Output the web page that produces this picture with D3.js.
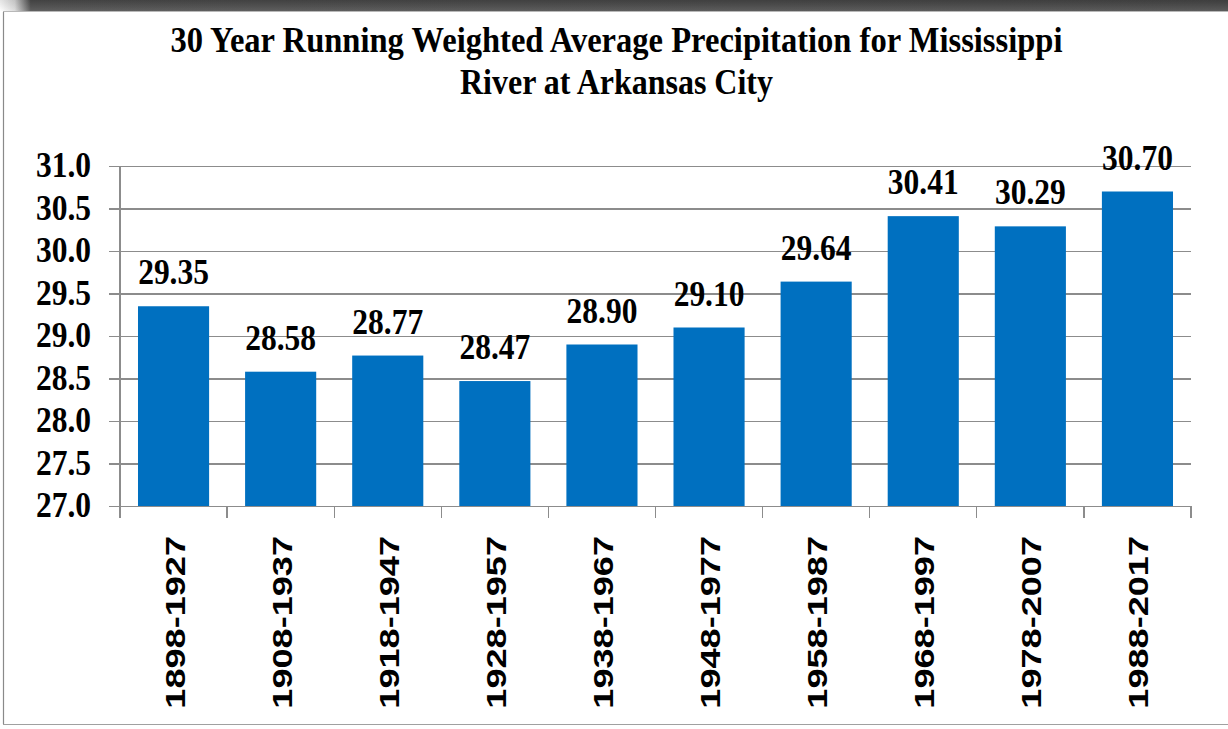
<!DOCTYPE html>
<html>
<head>
<meta charset="utf-8">
<script src="https://cdn.jsdelivr.net/npm/d3@7/dist/d3.min.js"></script>
<style>
  html, body { margin: 0; padding: 0; background: #ffffff; }
  svg { display: block; }
</style>
</head>
<body>
<svg id="chart" width="1228" height="729"></svg>
<script>
// Data
const periods = ["1898-1927", "1908-1937", "1918-1947", "1928-1957", "1938-1967",
                 "1948-1977", "1958-1987", "1968-1997", "1978-2007", "1988-2017"];
const precipitation = [29.35, 28.58, 28.77, 28.47, 28.90, 29.10, 29.64, 30.41, 30.29, 30.70];
const yTicks = [27.0, 27.5, 28.0, 28.5, 29.0, 29.5, 30.0, 30.5, 31.0];
const titleLines = ["30 Year Running Weighted Average Precipitation for Mississippi",
                    "River at Arkansas City"];

const svg = d3.select("#chart");
const W = 1228, H = 729;

const serif = "'Liberation Serif', 'Times New Roman', serif";
const sans = "'Liberation Sans', Arial, sans-serif";
const gridColor = "#8c8c8c";
const barColor = "#0070c0";

// Window-like header band and frame
const defs = svg.append("defs");
const bandGrad = defs.append("linearGradient").attr("id", "bandGrad")
  .attr("x1", 0).attr("x2", 1).attr("y1", 0).attr("y2", 0);
bandGrad.append("stop").attr("offset", "0%").attr("stop-color", "#ffffff");
bandGrad.append("stop").attr("offset", "1.2%").attr("stop-color", "#d8d8d8");
bandGrad.append("stop").attr("offset", "2.5%").attr("stop-color", "#4a4a4a");
bandGrad.append("stop").attr("offset", "100%").attr("stop-color", "#454545");
const bandShade = defs.append("linearGradient").attr("id", "bandShade")
  .attr("x1", 0).attr("x2", 0).attr("y1", 0).attr("y2", 1);
bandShade.append("stop").attr("offset", "0%").attr("stop-color", "#000").attr("stop-opacity", 0.1);
bandShade.append("stop").attr("offset", "100%").attr("stop-color", "#fff").attr("stop-opacity", 0.12);

svg.append("rect").attr("x", 0).attr("y", 0).attr("width", W).attr("height", 11).attr("fill", "url(#bandGrad)");
svg.append("rect").attr("x", 0).attr("y", 0).attr("width", W).attr("height", 11).attr("fill", "url(#bandShade)");
svg.append("line").attr("x1", 3).attr("x2", W).attr("y1", 11.5).attr("y2", 11.5)
  .attr("stroke", "#b8b8b8").attr("stroke-width", 1);
svg.append("line").attr("x1", 3.5).attr("x2", 3.5).attr("y1", 12).attr("y2", 724)
  .attr("stroke", "#8a8a8a").attr("stroke-width", 1.2);
svg.append("line").attr("x1", 3).attr("x2", W).attr("y1", 724.5).attr("y2", 724.5)
  .attr("stroke", "#a0a0a0").attr("stroke-width", 1.2);

// Plot area
const plot = { left: 120, right: 1191, top: 166, bottom: 506 };

const x = d3.scaleBand()
  .domain(periods)
  .range([plot.left, plot.right])
  .paddingInner(0.336)
  .paddingOuter(0.168);

const y = d3.scaleLinear()
  .domain([27, 31])
  .range([plot.bottom, plot.top]);

// Title
const titleY = [52, 94];
const titleLen = [892, 313];
svg.append("g").selectAll("text")
  .data(titleLines)
  .join("text")
  .attr("x", 616.5)
  .attr("y", (d, i) => titleY[i])
  .attr("text-anchor", "middle")
  .attr("font-family", serif)
  .attr("font-weight", "bold")
  .attr("font-size", 35)
  .attr("textLength", (d, i) => titleLen[i])
  .attr("lengthAdjust", "spacingAndGlyphs")
  .attr("fill", "#000")
  .text(d => d);

// Horizontal gridlines with left tick marks
const yAxis = d3.axisLeft(y)
  .tickValues(yTicks)
  .tickSize(plot.right - plot.left + 11)
  .tickFormat("");
const yAxisG = svg.append("g")
  .attr("transform", `translate(${plot.right},0)`)
  .call(yAxis);
yAxisG.select(".domain").remove();
yAxisG.selectAll(".tick line")
  .attr("stroke", gridColor)
  .attr("stroke-width", 1.3)
  .attr("shape-rendering", "crispEdges");

// Y tick labels
const numScale = 0.875;
svg.append("g").selectAll("text")
  .data(yTicks)
  .join("text")
  .attr("transform", d => `translate(91,${y(d) + 11}) scale(${numScale},1)`)
  .attr("text-anchor", "end")
  .attr("font-family", serif)
  .attr("font-weight", "bold")
  .attr("font-size", 36)
  .attr("fill", "#000")
  .text(d => d3.format(".1f")(d));

// Bars
svg.append("g").selectAll("rect")
  .data(precipitation)
  .join("rect")
  .attr("x", (d, i) => x(periods[i]))
  .attr("y", d => y(d))
  .attr("width", x.bandwidth())
  .attr("height", d => y(27) - y(d))
  .attr("fill", barColor);

// Axis lines
svg.append("line")
  .attr("x1", plot.left).attr("x2", plot.left)
  .attr("y1", plot.top).attr("y2", plot.bottom + 12)
  .attr("stroke", gridColor).attr("stroke-width", 1.3)
  .attr("shape-rendering", "crispEdges");

// Category boundary ticks below the baseline
const boundaries = d3.range(periods.length + 1).map(i => plot.left + i * x.step());
svg.append("g").selectAll("line")
  .data(boundaries)
  .join("line")
  .attr("x1", d => d).attr("x2", d => d)
  .attr("y1", plot.bottom).attr("y2", plot.bottom + 12)
  .attr("stroke", gridColor).attr("stroke-width", 1.3)
  .attr("shape-rendering", "crispEdges");

// Value labels
svg.append("g").selectAll("text")
  .data(precipitation)
  .join("text")
  .attr("transform", (d, i) =>
    `translate(${x(periods[i]) + x.bandwidth() / 2},${y(d) - 22}) scale(${numScale},1)`)
  .attr("text-anchor", "middle")
  .attr("font-family", serif)
  .attr("font-weight", "bold")
  .attr("font-size", 36)
  .attr("fill", "#000")
  .text(d => d3.format(".2f")(d));

// Category labels, rotated
svg.append("g").selectAll("text")
  .data(periods)
  .join("text")
  .attr("transform", d =>
    `translate(${x(d) + x.bandwidth() / 2 + 11},536) rotate(-90) scale(1.29,1)`)
  .attr("text-anchor", "end")
  .attr("font-family", sans)
  .attr("font-weight", "bold")
  .attr("font-size", 28)
  .attr("fill", "#000")
  .text(d => d);
</script>
</body>
</html>
